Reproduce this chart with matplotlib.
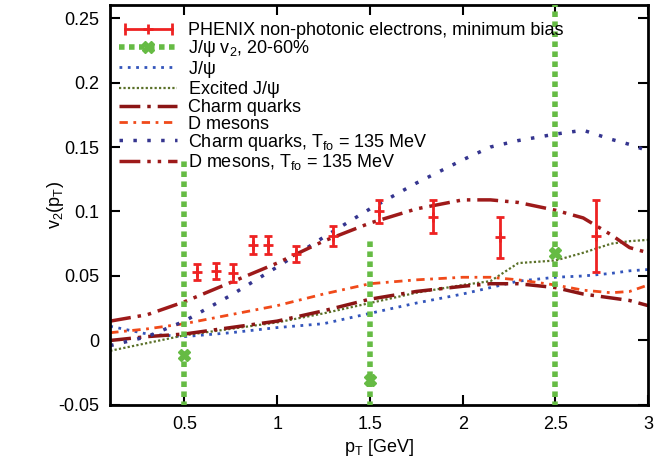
import numpy as np
import matplotlib
matplotlib.use("Agg")
import matplotlib.pyplot as plt
from matplotlib.lines import Line2D
from matplotlib.legend_handler import HandlerLine2D

plt.rcParams['font.family'] = ['Liberation Sans', 'DejaVu Sans']
plt.rcParams['mathtext.fontset'] = 'custom'
plt.rcParams['mathtext.rm'] = 'Liberation Sans'
plt.rcParams['mathtext.it'] = 'Liberation Sans'
plt.rcParams['font.size'] = 13

# PHENIX non-photonic electrons, minimum bias
phenix_pt = [0.57, 0.67, 0.76, 0.87, 0.95, 1.1, 1.3, 1.55, 1.84, 2.2, 2.72]
phenix_v2 = [0.053, 0.054, 0.052, 0.074, 0.074, 0.067, 0.081, 0.100, 0.096, 0.080, 0.081]
phenix_err = [0.006, 0.006, 0.007, 0.007, 0.007, 0.006, 0.008, 0.009, 0.013, 0.016, 0.028]

# J/psi v2, 20-60%
jpsi_pt = [0.5, 1.5, 2.5]
jpsi_v2 = [-0.011, -0.031, 0.068]
jpsi_err = [0.153, 0.111, 0.22]

# model curves
pt_curve = [0.1, 0.3, 0.5, 0.75, 1.0, 1.25, 1.5, 1.75, 2.0, 2.15, 2.3, 2.5, 2.65, 2.8, 2.9, 3.0]
v2_jpsi = [0.011, 0.005, 0.003, 0.006, 0.010, 0.013, 0.021, 0.029, 0.036, 0.041, 0.046, 0.049, 0.050, 0.052, 0.054, 0.055]
v2_excited = [-0.008, -0.002, 0.004, 0.009, 0.014, 0.021, 0.029, 0.037, 0.043, 0.046, 0.060, 0.062, 0.068, 0.075, 0.077, 0.078]
v2_charm = [0.000, 0.003, 0.005, 0.010, 0.015, 0.023, 0.032, 0.038, 0.042, 0.044, 0.044, 0.041, 0.036, 0.033, 0.031, 0.027]
v2_dmes = [0.006, 0.009, 0.013, 0.020, 0.027, 0.036, 0.044, 0.047, 0.049, 0.049, 0.047, 0.043, 0.039, 0.037, 0.038, 0.043]
v2_charm_fo = [-0.004, 0.003, 0.015, 0.035, 0.057, 0.080, 0.102, 0.122, 0.140, 0.150, 0.155, 0.160, 0.163, 0.156, 0.152, 0.147]
v2_dmes_fo = [0.015, 0.020, 0.030, 0.045, 0.060, 0.077, 0.091, 0.102, 0.109, 0.109, 0.107, 0.101, 0.095, 0.082, 0.072, 0.068]

red = '#ee2222'
green = '#66bb44'

fig = plt.figure(figsize=(6.56, 4.66), dpi=100)
ax = fig.add_axes([0.168, 0.131, 0.820, 0.858])

# model curves
l_jpsi, = ax.plot(pt_curve, v2_jpsi, color='#3355bb', lw=2, ls=(0, (1, 2)))
l_exc, = ax.plot(pt_curve, v2_excited, color='#5a7028', lw=1.6, ls=(0, (1, 1)))
l_charm, = ax.plot(pt_curve, v2_charm, color='#8b1515', lw=2.5, ls=(0, (6, 2, 1, 2)))
l_dmes, = ax.plot(pt_curve, v2_dmes, color='#f04a1a', lw=2, ls=(0, (3, 2, 1, 2)))
l_cfo, = ax.plot(pt_curve, v2_charm_fo, color='#35358f', lw=2.5, ls=(0, (1, 3)))
l_dfo, = ax.plot(pt_curve, v2_dmes_fo, color='#9e1a1a', lw=2.5, ls=(0, (6, 2, 1, 2, 1, 2)))

# J/psi data: thick dashed error bars
jp = np.array(jpsi_pt)
jv = np.array(jpsi_v2)
je = np.array(jpsi_err)
ax.vlines(jp, jv - je, jv + je, colors=green, linewidth=4, linestyles=(0, (1, 0.8)), zorder=4)
ax.plot(jp, jv, 'X', color=green, markersize=8, zorder=5)

# PHENIX data
ax.errorbar(phenix_pt, phenix_v2, yerr=phenix_err, fmt='+', color=red, ecolor=red,
            elinewidth=2, capsize=3, capthick=2, markersize=7, markeredgewidth=2, zorder=6)

ax.set_xlim(0.1, 3.0)
ax.set_ylim(-0.05, 0.26)
ax.set_xticks([0.5, 1, 1.5, 2, 2.5, 3])
ax.set_xticklabels(['0.5', '1', '1.5', '2', '2.5', '3'])
ax.set_yticks([-0.05, 0, 0.05, 0.1, 0.15, 0.2, 0.25])
ax.set_yticklabels(['-0.05', '0', '0.05', '0.1', '0.15', '0.2', '0.25'])
ax.tick_params(direction='in', length=7, width=1.5, top=True, right=True, pad=8)
for s in ax.spines.values():
    s.set_linewidth(2)

ax.set_xlabel(r'p$_\mathrm{T}$ [GeV]', labelpad=3)
ax.set_ylabel(r'v$_2$(p$_\mathrm{T}$)', labelpad=-6)

# legend handles
h_ph_line = Line2D([], [], color=red, lw=2, marker='|', markersize=9, markeredgewidth=2)
h_ph_mark = Line2D([], [], color=red, lw=0, marker='+', markersize=7, markeredgewidth=2)
h_jp = Line2D([], [], color=green, lw=4, ls=(0, (1, 0.8)), marker='X', markersize=9)

handles = [(h_ph_line, h_ph_mark), h_jp, l_jpsi, l_exc, l_charm, l_dmes, l_cfo, l_dfo]
labels = ['PHENIX non-photonic electrons, minimum bias',
          r'J/$\psi$ v$_2$, 20-60%',
          r'J/$\psi$',
          r'Excited J/$\psi$',
          'Charm quarks',
          'D mesons',
          r'Charm quarks, T$_\mathrm{fo}$ = 135 MeV',
          r'D mesons, T$_\mathrm{fo}$ = 135 MeV']
leg = ax.legend(handles, labels, loc='upper left', bbox_to_anchor=(0.0, 0.98),
                frameon=False, handlelength=3.2, handletextpad=0.6, labelspacing=-0.04,
                borderpad=0.3, borderaxespad=0.2, numpoints=1,
                handler_map={h_ph_line: HandlerLine2D(numpoints=2)})

fig.savefig('out.png', dpi=100)
